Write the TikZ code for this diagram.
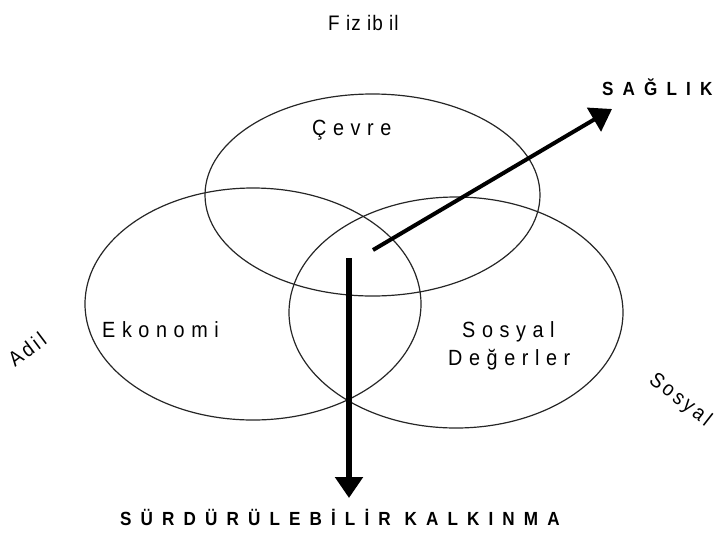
\documentclass[tikz,border=0pt]{standalone}
\usepackage{fontspec}
\setmainfont{Liberation Sans}[FakeStretch=0.9]
\usetikzlibrary{arrows.meta}

\begin{document}
\begin{tikzpicture}[x=1pt,y=-1pt,
    ring/.style={line width=1.2pt,black!85},
    label/.style={inner sep=0pt,anchor=base west,font=\fontsize{22}{26}\selectfont\addfontfeature{LetterSpace=30}},
    side/.style={inner sep=0pt,anchor=base west,font=\fontsize{21}{25}\selectfont\addfontfeature{LetterSpace=15}},
    goal/.style={inner sep=0pt,anchor=base west,font=\fontsize{19}{23}\selectfont\bfseries\addfontfeature{LetterSpace=48}},
    bigarrow/.style={-{Triangle[length=21pt,width=27pt]}}]
\useasboundingbox (0,0) rectangle (717,536);

% the three sets
\draw[ring] (372.5,195) ellipse (167.5 and 101);
\draw[ring] (253,304) ellipse (168 and 116);
\draw[ring] (456,312.5) ellipse (167 and 115.5);

\node[label] (cevre) at (312,135) {Çevre};
\node[label] (ekonomi) at (102,337) {Ekonomi};
\node[label] (sosyal) at (462,337) {Sosyal};
\node[label] (degerler) at (448,365) {Değerler};

\node[label,font=\fontsize{21}{25}\selectfont\addfontfeature{LetterSpace=5}] (fizibil) at (328,30) {F iz ib il};
\node[side,rotate=37] (adil) at (15,368) {Adil};
\node[side,rotate=-38] (sosyaldis) at (648,382) {Sosyal};

\node[goal] (saglik) at (602,95) {SAĞLIK};
\node[goal] (kalkinma) at (120,525) {SÜRDÜRÜLEBİLİR KALKINMA};

\coordinate (saglikbas) at (373,250);
\coordinate (saglikuc) at (612,109);
\coordinate (kalkinmabas) at (349,258);
\coordinate (kalkinmauc) at (349,498);

\draw[bigarrow,line width=4pt] (saglikbas) -- (saglikuc);
\draw[bigarrow,line width=6pt] (kalkinmabas) -- (kalkinmauc);

\end{tikzpicture}
\end{document}
